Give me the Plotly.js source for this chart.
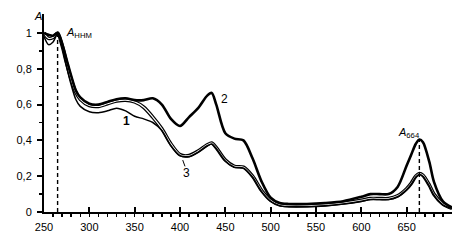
<!DOCTYPE html>
<html><head><meta charset="utf-8">
<script src="https://cdn.plot.ly/plotly-3.0.1.min.js"></script>
<style>html,body{margin:0;padding:0;background:#fff}#chart{width:467px;height:250px}</style>
</head><body><div id="chart"></div>
<script>
const wavelength = [250,255,260,265,270,275,280,285,290,300,310,320,330,340,350,360,370,380,390,400,410,420,430,435,440,450,460,470,480,490,500,510,520,540,560,580,600,610,620,630,640,650,655,660,664,668,675,680,690,700];
const curve1 = [0.98,0.935,0.95,0.995,0.92,0.81,0.71,0.63,0.59,0.56,0.555,0.565,0.58,0.565,0.535,0.52,0.5,0.455,0.37,0.315,0.31,0.335,0.37,0.38,0.355,0.285,0.25,0.245,0.195,0.115,0.06,0.035,0.03,0.03,0.035,0.045,0.06,0.07,0.07,0.07,0.085,0.125,0.155,0.195,0.21,0.2,0.145,0.095,0.04,0.02];
const curve2 = [1.0,0.99,0.985,1.0,0.94,0.85,0.76,0.68,0.64,0.605,0.6,0.615,0.63,0.635,0.625,0.625,0.635,0.6,0.52,0.48,0.53,0.58,0.65,0.665,0.6,0.44,0.41,0.4,0.3,0.17,0.08,0.05,0.045,0.045,0.05,0.06,0.085,0.1,0.1,0.1,0.14,0.26,0.32,0.38,0.405,0.39,0.28,0.17,0.06,0.025];
const curve3 = [1.0,0.97,0.975,1.0,0.93,0.83,0.74,0.67,0.63,0.595,0.59,0.605,0.62,0.625,0.615,0.585,0.53,0.465,0.38,0.32,0.315,0.34,0.375,0.385,0.36,0.29,0.255,0.25,0.2,0.12,0.065,0.04,0.035,0.035,0.04,0.05,0.065,0.075,0.075,0.075,0.09,0.13,0.16,0.2,0.215,0.205,0.15,0.1,0.045,0.02];
const xTicks = [250,300,350,400,450,500,550,600,650];
const yTicks = [0,0.2,0.4,0.6,0.8,1];
const peakUV = 265, peakUVValue = 1.0;
const peak664 = 664, peak664Value = 0.405;

const base = {x: wavelength, mode:'lines', hoverinfo:'skip', showlegend:false};
const traces = [
  Object.assign({}, base, {y: curve3, line:{color:'#000', width:3.6, shape:'spline', smoothing:0.8}}),
  Object.assign({}, base, {y: curve3, line:{color:'#fff', width:1.2, shape:'spline', smoothing:0.8}}),
  Object.assign({}, base, {y: curve1, line:{color:'#000', width:1.5, shape:'spline', smoothing:0.8}}),
  Object.assign({}, base, {y: curve2, line:{color:'#000', width:2.6, shape:'spline', smoothing:0.8}}),
  {x:[peakUV,peakUV], y:[0,peakUVValue], mode:'lines', hoverinfo:'skip', showlegend:false, line:{color:'#000', width:1.4, dash:'4px,3px'}},
  {x:[peak664,peak664], y:[0,peak664Value], mode:'lines', hoverinfo:'skip', showlegend:false, line:{color:'#000', width:1.4, dash:'4px,3px'}}
];
const font = {family:'Liberation Sans, Arial, sans-serif', size:11, color:'#000'};
const layout = {
  width:467, height:250,
  margin:{l:44, r:15, t:14, b:38},
  paper_bgcolor:'#fff', plot_bgcolor:'#fff',
  separators:', ',
  font: font,
  xaxis:{range:[250,700], tickvals:xTicks, ticktext:xTicks.map(String), ticks:'inside', ticklen:5, tickwidth:2, tickcolor:'#000',
    ticklabelstandoff:4,
    minor:{dtick:10, tick0:250, ticks:'outside', ticklen:3, tickwidth:1.5, tickcolor:'#000'},
    showline:true, linecolor:'#000', linewidth:2, showgrid:false, zeroline:false, tickfont:font},
  yaxis:{range:[0,1.106], tickvals:yTicks, ticks:'outside', ticklen:5, tickwidth:2, tickcolor:'#000',
    ticklabelstandoff:3,
    minor:{tickvals:[0.1,0.3,0.5,0.7,0.9], ticks:'outside', ticklen:3, tickwidth:1.5, tickcolor:'#000'},
    showline:true, linecolor:'#000', linewidth:2, showgrid:false, zeroline:false, tickfont:font},
  annotations:[
    {xref:'paper', yref:'y', x:-0.03, y:1.095, text:'<i>A</i>', showarrow:false, font:font},
    {xref:'x', yref:'y', x:272, y:1.0, xanchor:'left', text:'<i>A</i><sub>ННМ</sub>', showarrow:false, font:font},
    {xref:'x', yref:'y', x:638, y:0.44, xanchor:'left', text:'<i>A</i><sub>664</sub>', showarrow:false, font:font},
    {xref:'x', yref:'y', x:340.5, y:0.51, text:'<b>1</b>', showarrow:false, font:{family:font.family, size:12, color:'#000'}},
    {xref:'x', yref:'y', x:449, y:0.63, text:'2', showarrow:false, font:{family:font.family, size:12, color:'#000'}},
    {xref:'x', yref:'y', x:407.5, y:0.22, text:'3', showarrow:false, font:{family:font.family, size:12, color:'#000'}},
    {xref:'x', yref:'y', x:693, y:-0.1, text:'<i>λ</i>', showarrow:false, font:font}
  ],
  shapes:[
    {type:'line', xref:'x', yref:'y', x0:403, y0:0.29, x1:405.5, y1:0.255, line:{color:'#000', width:1}}
  ]
};
Plotly.newPlot('chart', traces, layout, {staticPlot:true, displayModeBar:false});
</script></body></html>
